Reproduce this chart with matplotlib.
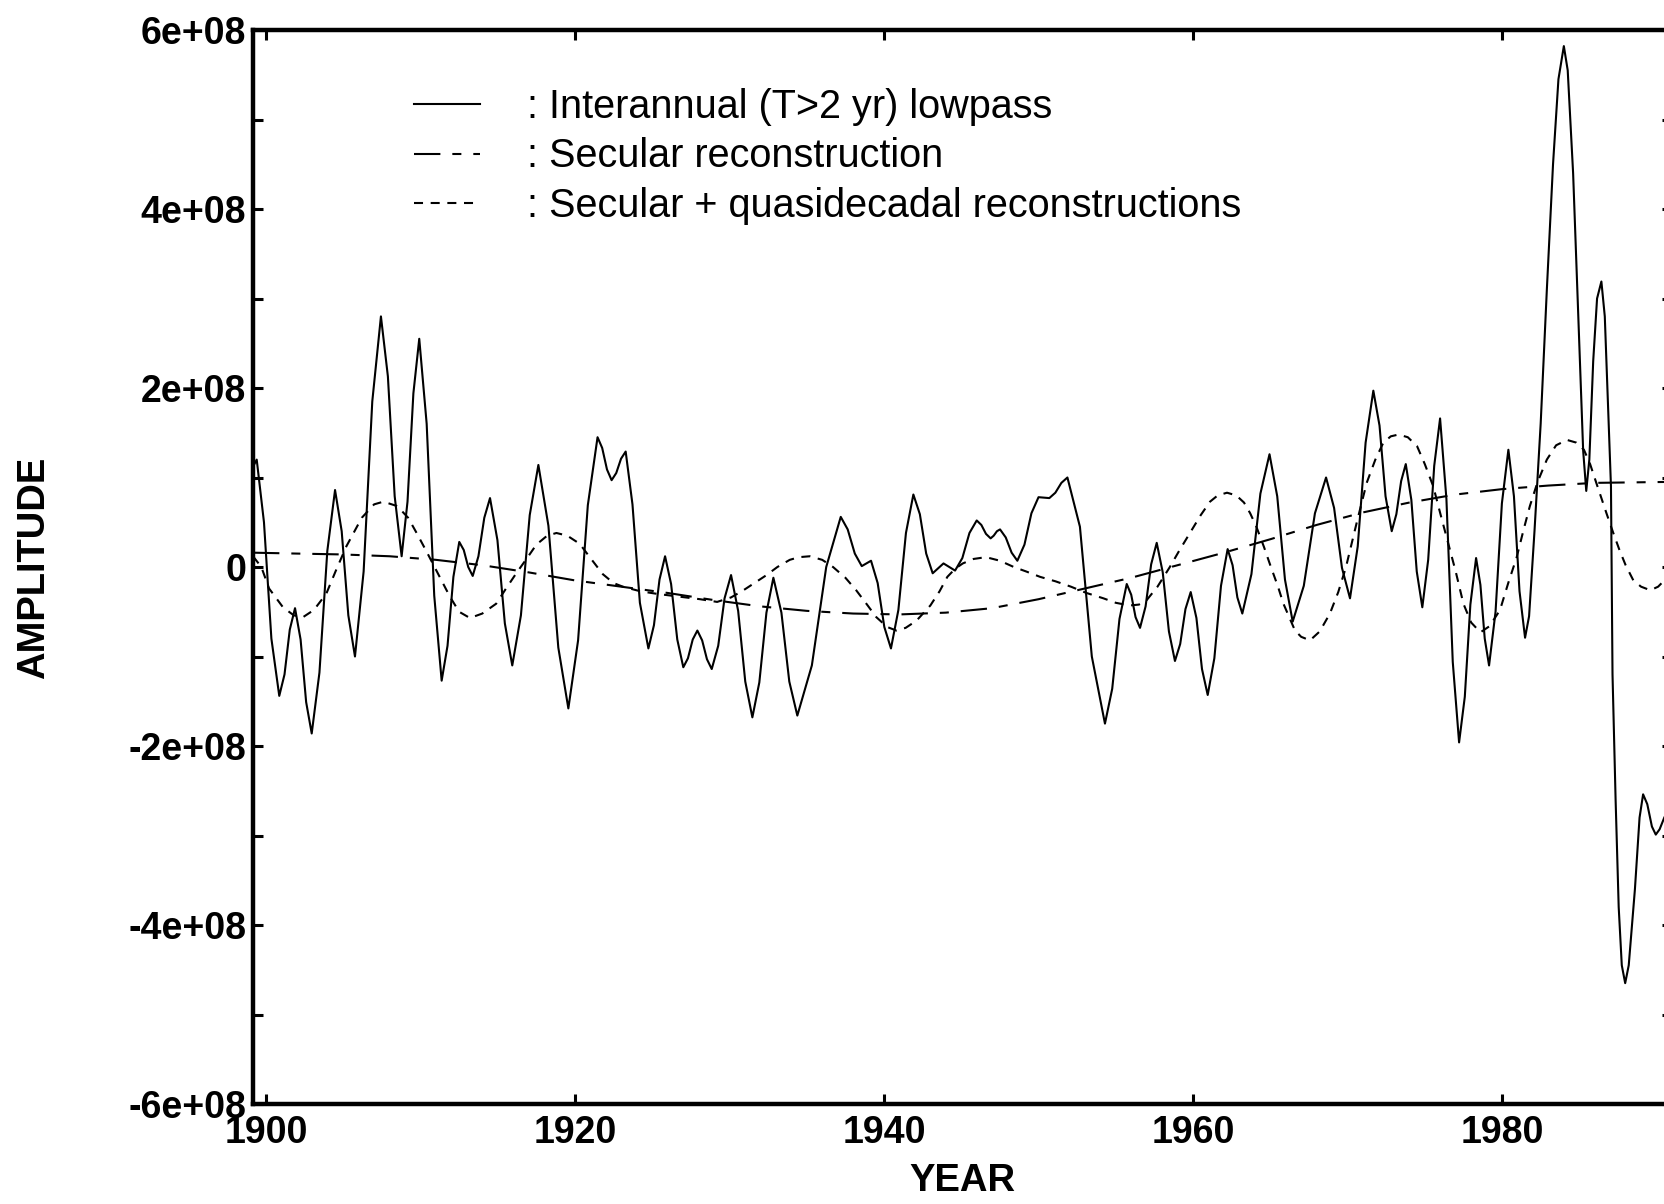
import matplotlib
matplotlib.use("Agg")
import matplotlib.pyplot as plt
from matplotlib.ticker import FixedLocator, FixedFormatter

plt.rcParams['font.family'] = ['Liberation Sans', 'DejaVu Sans']
plt.rcParams['lines.scale_dashes'] = False

# Interannual (T>2 yr) lowpass amplitude, in units of 1e8
lowpass_year = [
    1899.16, 1899.40, 1899.87, 1900.35, 1900.86, 1901.20, 1901.54, 1901.88,
    1902.24, 1902.60, 1902.96, 1903.46, 1903.97, 1904.47, 1904.90, 1905.33,
    1905.76, 1906.32, 1906.88, 1907.44, 1907.89, 1908.33, 1908.78, 1909.16,
    1909.54, 1909.92, 1910.40, 1910.89, 1911.37, 1911.75, 1912.13, 1912.51,
    1912.80, 1913.09, 1913.38, 1913.75, 1914.13, 1914.50, 1914.98, 1915.46,
    1915.94, 1916.50, 1917.07, 1917.63, 1918.28, 1918.92, 1919.57, 1920.20,
    1920.83, 1921.46, 1921.76, 1922.07, 1922.37, 1922.67, 1922.98, 1923.28,
    1923.72, 1924.20, 1924.75, 1925.11, 1925.47, 1925.83, 1926.22, 1926.62,
    1927.01, 1927.31, 1927.62, 1927.92, 1928.23, 1928.54, 1928.85, 1929.27,
    1929.68, 1930.10, 1930.56, 1931.02, 1931.48, 1931.93, 1932.39, 1932.84,
    1933.36, 1933.87, 1934.39, 1935.33, 1936.26, 1937.20, 1937.65, 1938.11,
    1938.56, 1939.16, 1939.59, 1940.02, 1940.45, 1940.93, 1941.42, 1941.90,
    1942.32, 1942.73, 1943.15, 1943.85, 1944.60, 1945.07, 1945.53, 1946.00,
    1946.30, 1946.60, 1946.90, 1947.10, 1947.31, 1947.51, 1947.88, 1948.26,
    1948.63, 1949.09, 1949.54, 1950.00, 1950.70, 1951.09, 1951.48, 1951.87,
    1952.68, 1953.45, 1954.30, 1954.77, 1955.24, 1955.71, 1956.00, 1956.28,
    1956.57, 1956.93, 1957.29, 1957.65, 1958.04, 1958.44, 1958.83, 1959.17,
    1959.51, 1959.85, 1960.22, 1960.58, 1960.95, 1961.38, 1961.81, 1962.24,
    1962.56, 1962.87, 1963.19, 1963.78, 1964.36, 1964.95, 1965.45, 1965.95,
    1966.45, 1967.17, 1967.89, 1968.61, 1969.13, 1969.64, 1970.16, 1970.66,
    1971.17, 1971.67, 1972.07, 1972.46, 1972.86, 1973.16, 1973.47, 1973.77,
    1974.13, 1974.48, 1974.84, 1975.22, 1975.61, 1975.99, 1976.40, 1976.81,
    1977.22, 1977.59, 1977.95, 1978.32, 1978.60, 1978.88, 1979.16, 1979.58,
    1979.99, 1980.41, 1980.77, 1981.13, 1981.49, 1981.75, 1982.10, 1982.50,
    1982.90, 1983.30, 1983.65, 1984.00, 1984.25, 1984.60, 1985.00, 1985.25,
    1985.45, 1985.65, 1985.90, 1986.15, 1986.43, 1986.65, 1986.90, 1987.05,
    1987.15, 1987.35, 1987.55, 1987.75, 1987.97, 1988.20, 1988.60, 1988.90,
    1989.13, 1989.40, 1989.70, 1989.95, 1990.20, 1990.50,
]
lowpass_amp = [
    1.12, 1.20, 0.50, -0.80, -1.44, -1.20, -0.70, -0.46,
    -0.81, -1.51, -1.86, -1.18, 0.18, 0.86, 0.40, -0.54,
    -1.00, -0.05, 1.85, 2.80, 2.13, 0.79, 0.12, 0.73,
    1.94, 2.55, 1.60, -0.32, -1.27, -0.88, -0.11, 0.28,
    0.19, 0.00, -0.10, 0.12, 0.55, 0.77, 0.30, -0.63,
    -1.10, -0.54, 0.58, 1.14, 0.46, -0.90, -1.58, -0.82,
    0.69, 1.45, 1.33, 1.09, 0.97, 1.05, 1.21, 1.29,
    0.70, -0.40, -0.91, -0.65, -0.14, 0.12, -0.19, -0.81,
    -1.12, -1.02, -0.81, -0.71, -0.82, -1.03, -1.14, -0.88,
    -0.35, -0.09, -0.49, -1.28, -1.68, -1.29, -0.51, -0.12,
    -0.51, -1.28, -1.66, -1.10, 0.00, 0.56, 0.42, 0.15,
    0.01, 0.07, -0.18, -0.67, -0.91, -0.48, 0.38, 0.81,
    0.59, 0.15, -0.07, 0.04, -0.04, 0.10, 0.38, 0.52,
    0.47, 0.37, 0.32, 0.35, 0.40, 0.42, 0.33, 0.16,
    0.07, 0.25, 0.60, 0.78, 0.77, 0.83, 0.94, 1.00,
    0.45, -1.00, -1.75, -1.36, -0.58, -0.19, -0.31, -0.56,
    -0.68, -0.44, 0.03, 0.27, -0.06, -0.72, -1.05, -0.86,
    -0.47, -0.28, -0.57, -1.14, -1.43, -1.02, -0.21, 0.20,
    0.02, -0.34, -0.52, -0.08, 0.82, 1.26, 0.79, -0.14,
    -0.61, -0.21, 0.60, 1.00, 0.66, -0.01, -0.35, 0.23,
    1.39, 1.97, 1.58, 0.79, 0.40, 0.59, 0.96, 1.15,
    0.75, -0.05, -0.45, 0.08, 1.13, 1.66, 0.76, -1.06,
    -1.96, -1.45, -0.42, 0.10, -0.20, -0.80, -1.10, -0.50,
    0.71, 1.31, 0.79, -0.27, -0.79, -0.55, 0.40, 1.60,
    3.10, 4.50, 5.45, 5.82, 5.55, 4.40, 2.50, 1.30,
    0.85, 1.20, 2.30, 3.00, 3.19, 2.80, 1.60, 0.90,
    -1.20, -2.60, -3.80, -4.45, -4.65, -4.45, -3.60, -2.80,
    -2.54, -2.65, -2.90, -2.99, -2.93, -2.80,
]

# Secular reconstruction
secular_year = [
    1899.16, 1902, 1905, 1908, 1911, 1914, 1917, 1920, 1923, 1926, 1929,
    1932, 1935, 1938, 1941, 1944, 1947, 1950, 1953, 1956, 1959, 1962,
    1965, 1968, 1971, 1974, 1977, 1980, 1983, 1986, 1990.5,
]
secular_amp = [
    0.16, 0.15, 0.14, 0.12, 0.08, 0.02, -0.06, -0.15, -0.22, -0.29, -0.37,
    -0.44, -0.49, -0.52, -0.53, -0.51, -0.46, -0.36, -0.24, -0.12, 0.02, 0.16,
    0.31, 0.47, 0.61, 0.72, 0.81, 0.87, 0.91, 0.94, 0.95,
]

# Secular + quasidecadal reconstructions
decadal_year = [
    1899.16, 1899.7, 1900.2, 1901.1, 1901.8, 1902.4, 1903.1, 1903.9, 1904.5,
    1905.2, 1906.2, 1907.0, 1907.6, 1908.5, 1909.2, 1909.75, 1910.4, 1911.0,
    1911.9, 1912.5, 1913.2, 1914.0, 1914.9, 1915.5, 1916.2, 1916.9, 1917.5,
    1918.2, 1918.8, 1919.5, 1920.3, 1921.0, 1921.8, 1922.5, 1923.1, 1924.2,
    1925.3, 1926.7, 1928.1, 1929.2, 1930.1, 1930.9, 1931.6, 1932.4, 1933.1,
    1933.9, 1934.5, 1935.2, 1936.0, 1936.7, 1937.5, 1938.2, 1938.9, 1939.5,
    1940.2, 1940.8, 1941.4, 1942.1, 1943.0, 1943.6, 1944.1, 1944.6, 1945.1,
    1945.8, 1946.6, 1947.5, 1948.4, 1949.2, 1950.1, 1951.1, 1952.1, 1953.1,
    1954.2, 1955.0, 1955.9, 1956.5, 1957.0, 1957.7, 1958.5, 1959.1, 1959.8,
    1960.5, 1961.1, 1961.6, 1962.2, 1962.8, 1963.3, 1963.7, 1964.1, 1964.6,
    1965.0, 1965.5, 1965.85, 1966.6, 1967.0, 1967.57, 1968.2, 1968.86, 1969.4,
    1969.9, 1970.6, 1971.24, 1971.8, 1972.32, 1972.8, 1973.3, 1973.9, 1974.5,
    1975.0, 1975.55, 1976.0, 1976.4, 1977.0, 1977.5, 1978.0, 1978.6, 1979.2,
    1979.87, 1980.4, 1980.95, 1981.4, 1981.8, 1982.3, 1982.9, 1983.5, 1984.2,
    1984.8, 1985.3, 1985.7, 1986.1, 1986.76, 1987.2, 1987.6, 1988.0, 1988.5,
    1989.0, 1989.6, 1990.1, 1990.5,
]
decadal_amp = [
    0.12, 0.00, -0.24, -0.45, -0.54, -0.56, -0.48, -0.30, -0.05,
    0.23, 0.55, 0.70, 0.73, 0.68, 0.55, 0.38, 0.17, -0.03,
    -0.33, -0.50, -0.57, -0.52, -0.41, -0.25, -0.07, 0.10, 0.25,
    0.35, 0.38, 0.35, 0.26, 0.10, -0.08, -0.18, -0.22, -0.27,
    -0.30, -0.33, -0.36, -0.39, -0.34, -0.26, -0.18, -0.09, 0.00,
    0.08, 0.11, 0.12, 0.08, 0.00, -0.12, -0.26, -0.42, -0.56,
    -0.67, -0.71, -0.68, -0.60, -0.43, -0.27, -0.11, -0.02, 0.04,
    0.09, 0.11, 0.07, 0.00, -0.05, -0.11, -0.16, -0.22, -0.29,
    -0.35, -0.40, -0.43, -0.42, -0.37, -0.22, 0.00, 0.18, 0.38,
    0.58, 0.73, 0.80, 0.83, 0.80, 0.72, 0.60, 0.45, 0.22,
    0.02, -0.22, -0.41, -0.71, -0.78, -0.82, -0.72, -0.52, -0.28,
    0.00, 0.50, 0.94, 1.20, 1.39, 1.46, 1.48, 1.45, 1.35,
    1.15, 0.90, 0.60, 0.34, -0.05, -0.41, -0.62, -0.73, -0.66,
    -0.48, -0.18, 0.11, 0.42, 0.68, 0.95, 1.20, 1.36, 1.42,
    1.39, 1.31, 1.15, 0.94, 0.60, 0.38, 0.19, 0.02, -0.15,
    -0.22, -0.26, -0.22, -0.15,
]

scale = 1e8
y_ticks = [-6e8, -4e8, -2e8, 0, 2e8, 4e8, 6e8]
y_tick_labels = ["-6e+08", "-4e+08", "-2e+08", "0", "2e+08", "4e+08", "6e+08"]
y_minor = [-5e8, -3e8, -1e8, 1e8, 3e8, 5e8]
x_ticks = [1900, 1920, 1940, 1960, 1980]

fig = plt.figure(figsize=(16.64, 12.04), dpi=100)
# axes run past the right edge of the figure
ax = fig.add_axes([253 / 1664, 100 / 1204, 1419 / 1664, 1074 / 1204])

ax.plot(lowpass_year, [v * scale for v in lowpass_amp], color='black', lw=1.5,
        solid_joinstyle='round',
        label=': Interannual (T>2 yr) lowpass')
ax.plot(secular_year, [v * scale for v in secular_amp], color='black', lw=1.5,
        linestyle=(0, (19, 8.6, 6.5, 8.6)),
        label=': Secular reconstruction')
ax.plot(decadal_year, [v * scale for v in decadal_amp], color='black', lw=1.5,
        linestyle=(0, (6.5, 5.5)),
        label=': Secular + quasidecadal reconstructions')

ax.set_xlim(1899.16, 1991.0)
ax.set_ylim(-6e8, 6e8)

ax.xaxis.set_major_locator(FixedLocator(x_ticks))
ax.yaxis.set_major_locator(FixedLocator(y_ticks))
ax.yaxis.set_major_formatter(FixedFormatter(y_tick_labels))
ax.yaxis.set_minor_locator(FixedLocator(y_minor))

ax.tick_params(axis='both', which='both', direction='in', length=7, width=2.2,
               top=True, right=True, color='black')
ax.tick_params(axis='x', which='major', pad=8, labelsize=27)
ax.tick_params(axis='y', which='major', pad=5, labelsize=27)
for lab in ax.get_xticklabels() + ax.get_yticklabels():
    lab.set_fontweight('bold')

for sp in ax.spines.values():
    sp.set_linewidth(3.2)

ax.set_xlabel('YEAR', fontsize=27.5, fontweight='bold', va='center')
ax.xaxis.set_label_coords(0.5, -0.0717)
ax.set_ylabel('AMPLITUDE', fontsize=27.5, fontweight='bold', va='center')
ax.yaxis.set_label_coords(-0.1543, 0.499)

ax.legend(loc='upper left', bbox_to_anchor=(414 / 1664, 1 - 87.5 / 1204),
          bbox_transform=fig.transFigure, frameon=False, fontsize=28.5,
          handlelength=1.67, handletextpad=1.19, labelspacing=0.3,
          borderpad=0, borderaxespad=0)

fig.savefig('out.png', dpi=100)
